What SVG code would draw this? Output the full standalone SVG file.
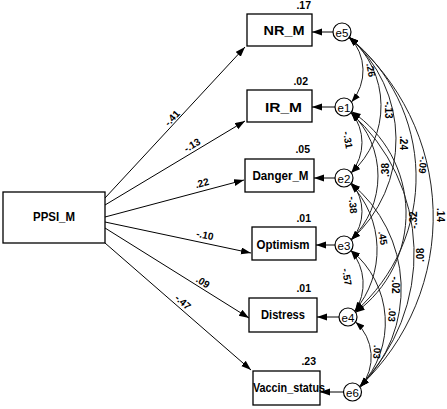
<svg xmlns="http://www.w3.org/2000/svg" width="447" height="409" viewBox="0 0 447 409">
<style>
.box{fill:#fff;stroke:#000;stroke-width:1.3}
.lbl{font-family:"Liberation Sans",Arial,sans-serif;font-weight:bold;font-size:13.5px;text-anchor:middle;fill:#000}
.r2{font-family:"Liberation Sans",Arial,sans-serif;font-weight:bold;font-size:10.5px;text-anchor:end;fill:#000}
.cf{font-family:"Liberation Sans",Arial,sans-serif;font-weight:bold;font-size:10px;text-anchor:middle;dominant-baseline:central;fill:#000}
.err{fill:#fff;stroke:#000;stroke-width:1.2}
.et{font-family:"Liberation Sans",Arial,sans-serif;font-size:11.5px;text-anchor:middle;dominant-baseline:central;fill:#000}
.reg{stroke:#000;stroke-width:1;fill:none;marker-end:url(#ah)}
.cov{stroke:#222;stroke-width:1;fill:none;marker-start:url(#ch);marker-end:url(#ch)}
</style>
<defs>
<marker id="ah" markerUnits="userSpaceOnUse" markerWidth="11" markerHeight="8" refX="10" refY="3.5" orient="auto"><path d="M0,0 L10,3.5 L0,7 z" fill="#000"/></marker>
<marker id="ch" markerUnits="userSpaceOnUse" markerWidth="10" markerHeight="8" refX="9" refY="3.25" orient="auto-start-reverse"><path d="M0,0 L9,3.25 L0,6.5 z" fill="#000"/></marker>
</defs>
<g id="connectors">
<line class="reg" x1="105" y1="198" x2="245" y2="47"/>
<line class="reg" x1="105" y1="205" x2="245" y2="121"/>
<line class="reg" x1="105" y1="217" x2="244" y2="180"/>
<line class="reg" x1="105" y1="222" x2="251" y2="253"/>
<line class="reg" x1="105" y1="228" x2="249" y2="318"/>
<line class="reg" x1="105" y1="243" x2="251" y2="370"/>
<text class="cf" transform="rotate(-47 172 118)" x="172" y="118">-.41</text>
<text class="cf" transform="rotate(-31 192 145)" x="192" y="145">-.13</text>
<text class="cf" transform="rotate(-15 202 183)" x="202" y="183">.22</text>
<text class="cf" transform="rotate(12 205 235)" x="205" y="235">-.10</text>
<text class="cf" transform="rotate(32 203 282)" x="203" y="282">.09</text>
<text class="cf" transform="rotate(41 183 302)" x="183" y="302">-.47</text>
<line class="reg" x1="333" y1="32" x2="312" y2="32"/>
<line class="reg" x1="335" y1="107" x2="312" y2="107"/>
<line class="reg" x1="335" y1="178" x2="314" y2="178"/>
<line class="reg" x1="335" y1="245" x2="316" y2="245"/>
<line class="reg" x1="339" y1="317" x2="317" y2="317"/>
<line class="reg" x1="343" y1="392" x2="320" y2="392"/>
<path class="cov" d="M349.5,37 A48.5,48.5 0 0 1 351.5,102"/>
<path class="cov" d="M351.3,112.3 A48,48 0 0 1 351.3,172.7"/>
<path class="cov" d="M351.5,183 A43.9,43.9 0 0 1 351.5,240"/>
<path class="cov" d="M351,250.7 A50.9,50.9 0 0 1 355,311.3"/>
<path class="cov" d="M355.6,321.9 A47.6,47.6 0 0 1 360.6,387.1"/>
<path class="cov" d="M349.4,37.2 A90.4,90.4 0 0 1 351.4,172.8"/>
<path class="cov" d="M351.1,112.5 A88.4,88.4 0 0 1 351.1,239.5"/>
<path class="cov" d="M350.7,184 A95.1,95.1 0 0 1 354.7,311"/>
<path class="cov" d="M351.2,250.4 A93.7,93.7 0 0 1 360.2,386.6"/>
<path class="cov" d="M349.2,37.4 A134.5,134.5 0 0 1 351.2,239.6"/>
<path class="cov" d="M351.7,111.6 A122.5,122.5 0 0 1 355.7,312.4"/>
<path class="cov" d="M351.1,183.5 A136.2,136.2 0 0 1 360.1,386.5"/>
<path class="cov" d="M349.2,37.4 A179.2,179.2 0 0 1 355.2,311.6"/>
<path class="cov" d="M350.8,112.9 A188.4,188.4 0 0 1 359.8,386.1"/>
<path class="cov" d="M349,37.7 A232.7,232.7 0 0 1 360,386.3"/>
<text class="cf" transform="rotate(80 371 70)" x="371" y="70">.26</text>
<text class="cf" transform="rotate(90 388 110)" x="388" y="110">-.13</text>
<text class="cf" transform="rotate(90 403 143)" x="403" y="143">.24</text>
<text class="cf" transform="rotate(95 423 165)" x="423" y="165">-.09</text>
<text class="cf" transform="rotate(90 440 215)" x="440" y="215">.14</text>
<text class="cf" transform="rotate(80 348 140)" x="348" y="140">-.31</text>
<text class="cf" transform="rotate(-90 385 170)" x="385" y="170">.38</text>
<text class="cf" transform="rotate(-90 413 220)" x="413" y="220">-.32</text>
<text class="cf" transform="rotate(-90 420 255)" x="420" y="255">.08</text>
<text class="cf" transform="rotate(85 353 205)" x="353" y="205">-.38</text>
<text class="cf" transform="rotate(80 383 238)" x="383" y="238">.45</text>
<text class="cf" transform="rotate(90 395 285)" x="395" y="285">-.02</text>
<text class="cf" transform="rotate(80 347 277)" x="347" y="277">-.57</text>
<text class="cf" transform="rotate(95 392 315)" x="392" y="315">.03</text>
<text class="cf" transform="rotate(95 377 352)" x="377" y="352">.03</text>
</g>
<g id="PPSI_M"><rect class="box" x="3" y="192" width="102" height="51"/><text class="lbl" x="54" y="221" textLength="42" lengthAdjust="spacingAndGlyphs">PPSI_M</text></g>
<g id="NR_M"><rect class="box" x="247" y="14" width="65" height="32"/><text class="lbl" x="284" y="35" textLength="41" lengthAdjust="spacingAndGlyphs">NR_M</text><text class="r2" x="311" y="9">.17</text></g>
<g id="IR_M"><rect class="box" x="247" y="90" width="65" height="32"/><text class="lbl" x="283.5" y="112" textLength="37" lengthAdjust="spacingAndGlyphs">IR_M</text><text class="r2" x="308" y="85">.02</text></g>
<g id="Danger_M"><rect class="box" x="245" y="159" width="69" height="33"/><text class="lbl" x="280.5" y="180" textLength="56" lengthAdjust="spacingAndGlyphs">Danger_M</text><text class="r2" x="310" y="153">.05</text></g>
<g id="Optimism"><rect class="box" x="252" y="227" width="64" height="33"/><text class="lbl" x="283" y="249" textLength="53" lengthAdjust="spacingAndGlyphs">Optimism</text><text class="r2" x="311" y="222">.01</text></g>
<g id="Distress"><rect class="box" x="249" y="298" width="68" height="34"/><text class="lbl" x="283" y="319" textLength="44" lengthAdjust="spacingAndGlyphs">Distress</text><text class="r2" x="311" y="292">.01</text></g>
<g id="Vaccin_status"><rect class="box" x="253" y="371" width="67" height="34"/><text class="lbl" x="289" y="392" textLength="72" lengthAdjust="spacingAndGlyphs">Vaccin_status</text><text class="r2" x="316" y="365">.23</text></g>
<g id="e5"><circle class="err" cx="342" cy="32" r="9"/><text class="et" x="342" y="32.5">e5</text></g>
<g id="e1"><circle class="err" cx="344" cy="107" r="9"/><text class="et" x="344" y="107.5">e1</text></g>
<g id="e2"><circle class="err" cx="344" cy="178" r="9"/><text class="et" x="344" y="178.5">e2</text></g>
<g id="e3"><circle class="err" cx="344" cy="245" r="9"/><text class="et" x="344" y="245.5">e3</text></g>
<g id="e4"><circle class="err" cx="348" cy="317" r="9"/><text class="et" x="348" y="317.5">e4</text></g>
<g id="e6"><circle class="err" cx="352.5" cy="392" r="9"/><text class="et" x="352.5" y="392.5">e6</text></g>
</svg>
